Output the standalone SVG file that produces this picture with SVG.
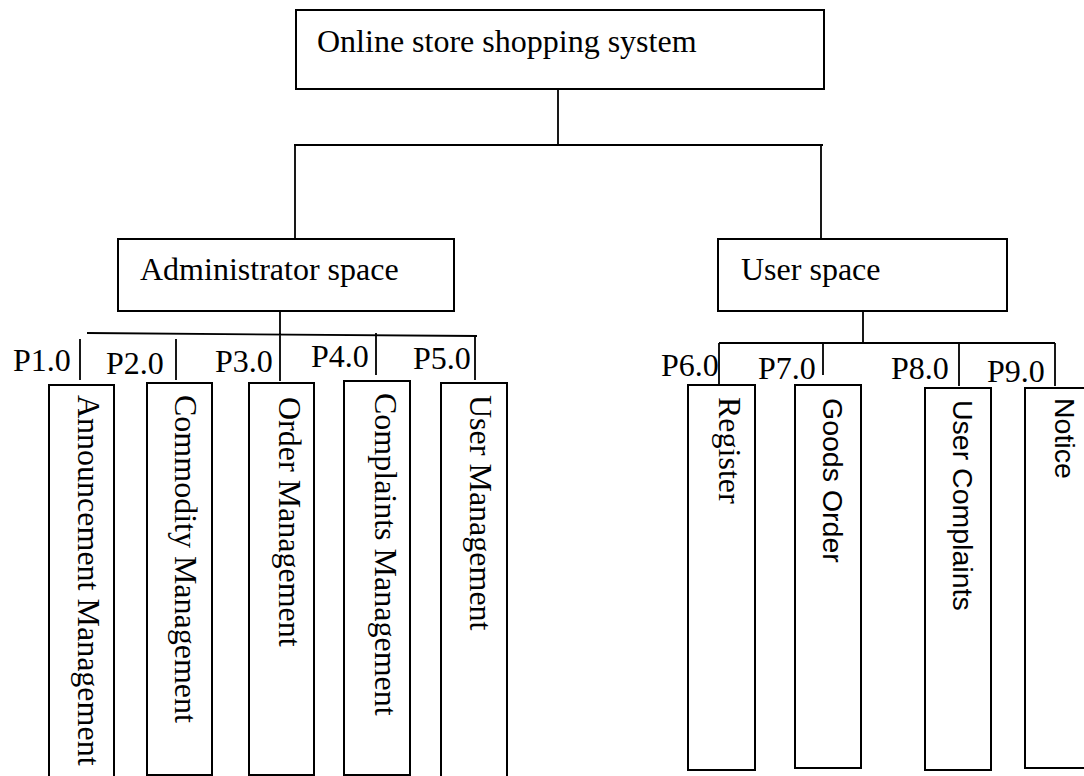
<svg xmlns="http://www.w3.org/2000/svg" width="1084" height="776" viewBox="0 0 1084 776">
  <style>
    .box { fill: #fff; stroke: #000; stroke-width: 2; }
    .wire { fill: none; stroke: #000; stroke-width: 1.8; }
    .serif { font-family: "Liberation Serif", "Times New Roman", serif; font-size: 32px; fill: #000; }
    .sans { font-family: "Liberation Sans", Arial, sans-serif; font-size: 28.5px; fill: #000; }
  </style>
  <rect width="1084" height="776" fill="#fff"/>

  <!-- tree connectors and process tick marks -->
  <g id="connectors">
    <path class="wire" d="M558 83 V145 M294 145 H823 M295 145 V239 M821 145 V239"/>
    <path class="wire" d="M280 311 V381 M87 333 L477 336"/>
    <path class="wire" d="M80 339 V380 M176 339 V380 M376 333 V375 M475 336 V380"/>
    <path class="wire" d="M863 302 V343 M719 343 H1055"/>
    <path class="wire" d="M719 343 V385 M823 343 V375 M959 343 V386 M1055 343 V386"/>
  </g>

  <!-- process numbers -->
  <g id="labels" class="serif">
    <text x="13" y="371">P1.0</text>
    <text x="106" y="374">P2.0</text>
    <text x="215" y="372">P3.0</text>
    <text x="311" y="367">P4.0</text>
    <text x="413" y="369">P5.0</text>
    <text x="661" y="376">P6.0</text>
    <text x="758" y="379">P7.0</text>
    <text x="891" y="379">P8.0</text>
    <text x="987" y="382">P9.0</text>
  </g>

  <g id="root">
    <rect class="box" x="296" y="10" width="528" height="79"/>
    <text class="serif" x="317" y="52">Online store shopping system</text>
  </g>

  <g id="admin-space">
    <rect class="box" x="118" y="239" width="336" height="72"/>
    <text class="serif" x="140" y="280">Administrator space</text>
  </g>

  <g id="user-space">
    <rect class="box" x="718" y="239" width="289" height="72"/>
    <text class="serif" x="741" y="280">User space</text>
  </g>

  <!-- administrator functions -->
  <g id="announcement-management">
    <rect class="box" x="49" y="385" width="65" height="395"/>
    <text class="serif" transform="translate(78,395) rotate(90)">Announcement Management</text>
  </g>
  <g id="commodity-management">
    <rect class="box" x="147" y="383" width="65" height="392"/>
    <text class="serif" transform="translate(175,395) rotate(90)">Commodity Management</text>
  </g>
  <g id="order-management">
    <rect class="box" x="249" y="383" width="65" height="392"/>
    <text class="serif" transform="translate(279,397) rotate(90)">Order Management</text>
  </g>
  <g id="complaints-management">
    <rect class="box" x="344" y="381" width="66" height="394"/>
    <text class="serif" transform="translate(375,393) rotate(90)">Complaints Management</text>
  </g>
  <g id="user-management">
    <rect class="box" x="441" y="383" width="66" height="397"/>
    <text class="serif" transform="translate(470,395) rotate(90)">User Management</text>
  </g>

  <!-- user functions -->
  <g id="register">
    <rect class="box" x="688" y="385" width="67" height="385"/>
    <text class="serif" transform="translate(719,397) rotate(90)">Register</text>
  </g>
  <g id="goods-order">
    <rect class="box" x="795" y="385" width="66" height="383"/>
    <text class="sans" transform="translate(823,398) rotate(90)">Goods Order</text>
  </g>
  <g id="user-complaints">
    <rect class="box" x="925" y="388" width="66" height="382"/>
    <text class="sans" transform="translate(953,400) rotate(90)">User Complaints</text>
  </g>
  <g id="notice">
    <rect class="box" x="1025" y="388" width="67" height="380"/>
    <text class="sans" transform="translate(1055,398) rotate(90)">Notice</text>
  </g>
</svg>
